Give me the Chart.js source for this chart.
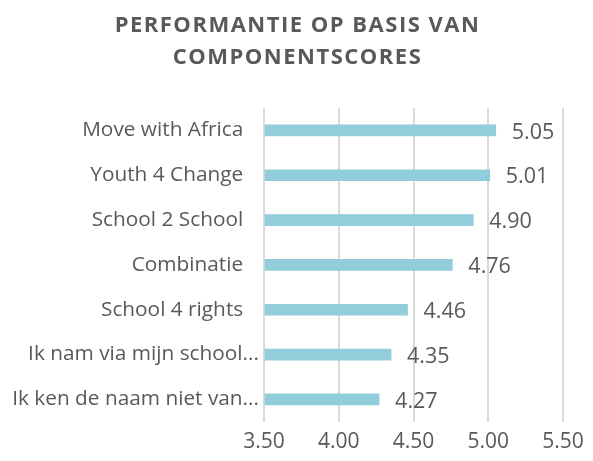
<!DOCTYPE html>
<html>
<head>
<meta charset="utf-8">
<script src="https://cdn.jsdelivr.net/npm/chart.js@4"></script>
<style>
  html, body { margin: 0; padding: 0; background: #fff; }
  #wrap { width: 593px; height: 461px; }
</style>
</head>
<body>
<div id="wrap"><canvas id="Chart"></canvas></div>
<script>
// Chart data (the short names carry trailing spaces, as in the original)
const categories = [
  'Move with Africa\u2002 ',
  'Youth 4 Change\u2002 ',
  'School 2 School\u2002 ',
  'Combinatie\u2002 ',
  'School 4 rights\u2002 ',
  'Ik nam via mijn school...',
  'Ik ken de naam niet van...'
];
const scores = [5.05, 5.01, 4.90, 4.76, 4.46, 4.35, 4.27];
const titleLines = ['PERFORMANTIE OP BASIS VAN', 'COMPONENTSCORES'];

const textGray = '#595959';

// Draws the value next to the end of each bar
const valueLabels = {
  id: 'valueLabels',
  afterDatasetsDraw(chart) {
    const ctx = chart.ctx;
    const meta = chart.getDatasetMeta(0);
    ctx.save();
    ctx.font = '21.5px "Open Sans"';
    ctx.fillStyle = textGray;
    ctx.textAlign = 'left';
    ctx.textBaseline = 'middle';
    meta.data.forEach((bar, i) => {
      ctx.fillText(scores[i].toFixed(2), bar.x + 16, bar.y + 2);
    });
    ctx.restore();
  }
};

// Spaced-out title, centred on the whole canvas
const spacedTitle = {
  id: 'spacedTitle',
  afterDraw(chart) {
    const ctx = chart.ctx;
    ctx.save();
    ctx.font = 'bold 22px "Open Sans"';
    ctx.fillStyle = textGray;
    ctx.textAlign = 'center';
    ctx.textBaseline = 'middle';
    ctx.letterSpacing = '1.5px';
    titleLines.forEach((line, i) => {
      ctx.fillText(line, chart.width / 2 + 1, 26 + i * 32);
    });
    ctx.restore();
  }
};

const config = {
  type: 'bar',
  data: {
    labels: categories,
    datasets: [{
      data: scores,
      backgroundColor: '#92cddc',
      barThickness: 11,
      base: 3.5
    }]
  },
  options: {
    indexAxis: 'y',
    responsive: true,
    maintainAspectRatio: false,
    animation: false,
    layout: { padding: { top: 108, right: 30, bottom: -2, left: 0 } },
    plugins: {
      legend: { display: false },
      tooltip: { enabled: false },
      title: { display: false }
    },
    scales: {
      x: {
        min: 3.5,
        max: 5.5,
        ticks: {
          stepSize: 0.5,
          color: textGray,
          font: { family: '"Open Sans"', size: 21 },
          padding: 8,
          callback: v => Number(v).toFixed(2)
        },
        grid: { color: '#d9d9d9', lineWidth: 2, drawTicks: false },
        border: { display: false }
      },
      y: {
        ticks: {
          color: textGray,
          font: { family: '"Open Sans"', size: 20.8 },
          padding: -3
        },
        grid: { display: false },
        border: { display: false },
        afterFit(scale) { scale.width = 264; }
      }
    }
  },
  plugins: [valueLabels, spacedTitle]
};

const spChart = new Chart(document.getElementById('Chart'), config);
</script>
</body>
</html>
